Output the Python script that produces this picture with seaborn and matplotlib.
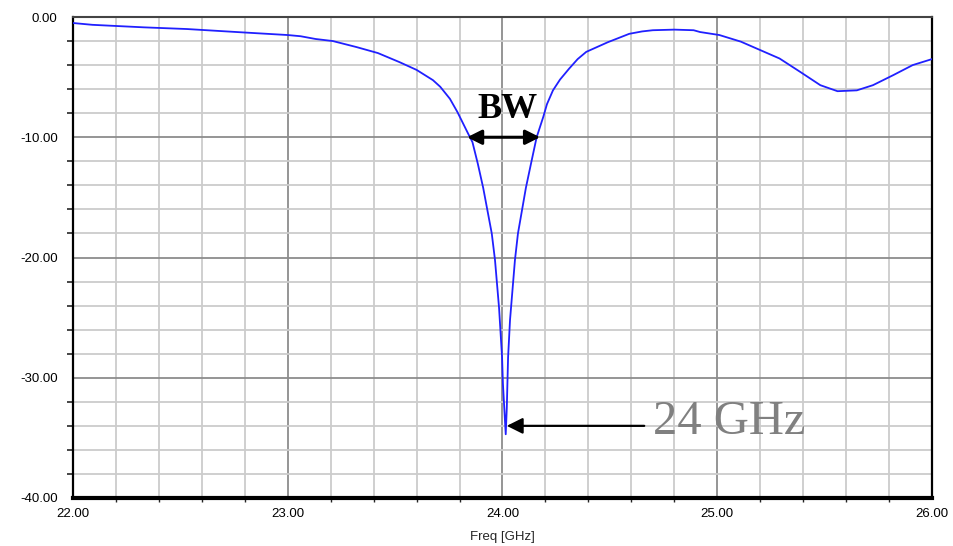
import matplotlib
matplotlib.use("Agg")
import matplotlib.pyplot as plt
import seaborn as sns
import pandas as pd
from matplotlib.ticker import MultipleLocator, FixedLocator

freq_ghz = [22.00, 22.09, 22.33, 22.53, 22.79, 23.00, 23.06, 23.13, 23.21, 23.32,
            23.42, 23.52, 23.60, 23.676, 23.71, 23.755, 23.79, 23.84, 23.86, 23.885,
            23.91, 23.95, 23.965, 23.984, 23.998, 24.002, 24.015, 24.020, 24.026,
            24.035, 24.058, 24.072, 24.109, 24.135, 24.159, 24.19, 24.207, 24.235,
            24.268, 24.31, 24.35, 24.39, 24.44, 24.49, 24.533, 24.59, 24.65, 24.70,
            24.80, 24.89, 24.92, 25.01, 25.11, 25.20, 25.29, 25.385, 25.48, 25.56,
            25.65, 25.725, 25.82, 25.91, 26.00]
s11_db = [-0.50, -0.65, -0.86, -1.00, -1.28, -1.50, -1.60, -1.83, -2.00, -2.50,
          -3.00, -3.75, -4.40, -5.25, -5.80, -6.80, -7.90, -9.70, -10.4, -12.2,
          -14.2, -18.0, -20.2, -24.2, -28.3, -30.5, -34.7, -32.5, -28.3,
          -25.2, -20.2, -18.0, -14.2, -12.0, -10.0, -8.3, -7.25, -6.1,
          -5.2, -4.3, -3.5, -2.9, -2.5, -2.1, -1.8, -1.4, -1.2, -1.1,
          -1.05, -1.1, -1.25, -1.5, -2.05, -2.75, -3.45, -4.55, -5.67, -6.17,
          -6.1, -5.67, -4.83, -4.0, -3.5]

x_ticks = [22, 23, 24, 25, 26]
x_tick_labels = ["22.00", "23.00", "24.00", "25.00", "26.00"]
y_ticks = [-40, -30, -20, -10, 0]
y_tick_labels = ["-40.00", "-30.00", "-20.00", "-10.00", "0.00"]
x_label = "Freq [GHz]"
bw_label = "BW"
bw_edges = [23.835, 24.175]
bw_level = -10.0
res_label = "24 GHz"
res_point = (24.02, -34.0)

sns.set_theme(style="white")
plt.rcParams["font.family"] = ["Liberation Sans", "DejaVu Sans"]

fig = plt.figure(figsize=(9.54, 5.46), dpi=100)
ax = fig.add_axes([73 / 954, 1 - 498 / 546, (932 - 73) / 954, (498 - 17) / 546])

df = pd.DataFrame({"freq": freq_ghz, "s11": s11_db})
sns.lineplot(data=df, x="freq", y="s11", ax=ax, color="#2020ff", linewidth=1.3,
             estimator=None, sort=False, zorder=5)

ax.set_xlim(22, 26)
ax.set_ylim(-40, 0)
ax.xaxis.set_major_locator(FixedLocator(x_ticks))
ax.set_xticklabels(x_tick_labels)
ax.yaxis.set_major_locator(FixedLocator(y_ticks))
ax.set_yticklabels(y_tick_labels)
ax.xaxis.set_minor_locator(MultipleLocator(0.2))
ax.yaxis.set_minor_locator(MultipleLocator(2))

ax.grid(which="minor", color="#cccccc", linewidth=1.3, zorder=0)
ax.grid(which="major", color="#8c8c8c", linewidth=1.3, zorder=1)
ax.set_axisbelow(True)

ax.tick_params(axis="both", which="major", labelsize=9.5, colors="black", direction="out")
ax.tick_params(axis="y", which="major", length=10, width=1.5, pad=1)
ax.tick_params(axis="y", which="minor", length=4, width=1.2, left=True)
ax.tick_params(axis="x", which="major", length=5, width=1.2, pad=2)
ax.tick_params(axis="x", which="minor", length=3, width=1.0, bottom=True)

ax.set_xlabel(x_label, fontsize=9.5, labelpad=8)
ax.set_ylabel("")

for side in ["left", "right"]:
    ax.spines[side].set_color("black")
    ax.spines[side].set_linewidth(1.6)
ax.spines["bottom"].set_color("black")
ax.spines["bottom"].set_linewidth(3)
ax.spines["top"].set_color("#444444")
ax.spines["top"].set_linewidth(1.5)

# BW annotation
ax.annotate("", xy=(bw_edges[0], bw_level), xytext=(bw_edges[1], bw_level),
            arrowprops=dict(arrowstyle="<|-|>", color="black", lw=2.2,
                            mutation_scale=22, shrinkA=0, shrinkB=0), zorder=6)
ax.text((bw_edges[0] + bw_edges[1]) / 2 + 0.02, bw_level + 0.9, bw_label,
        family=["Liberation Serif", "DejaVu Serif"], fontweight="bold",
        fontsize=26, ha="center", va="bottom", color="black", zorder=6)

# 24 GHz annotation
ax.annotate("", xy=res_point, xytext=(24.66, res_point[1]),
            arrowprops=dict(arrowstyle="-|>", color="black", lw=1.6,
                            mutation_scale=24, shrinkA=0, shrinkB=0), zorder=6)
ax.text(24.70, res_point[1] - 0.7, res_label,
        family=["Liberation Serif", "DejaVu Serif"], fontsize=35,
        ha="left", va="baseline", color="#808080", zorder=6)

fig.savefig("out.png", dpi=100)
